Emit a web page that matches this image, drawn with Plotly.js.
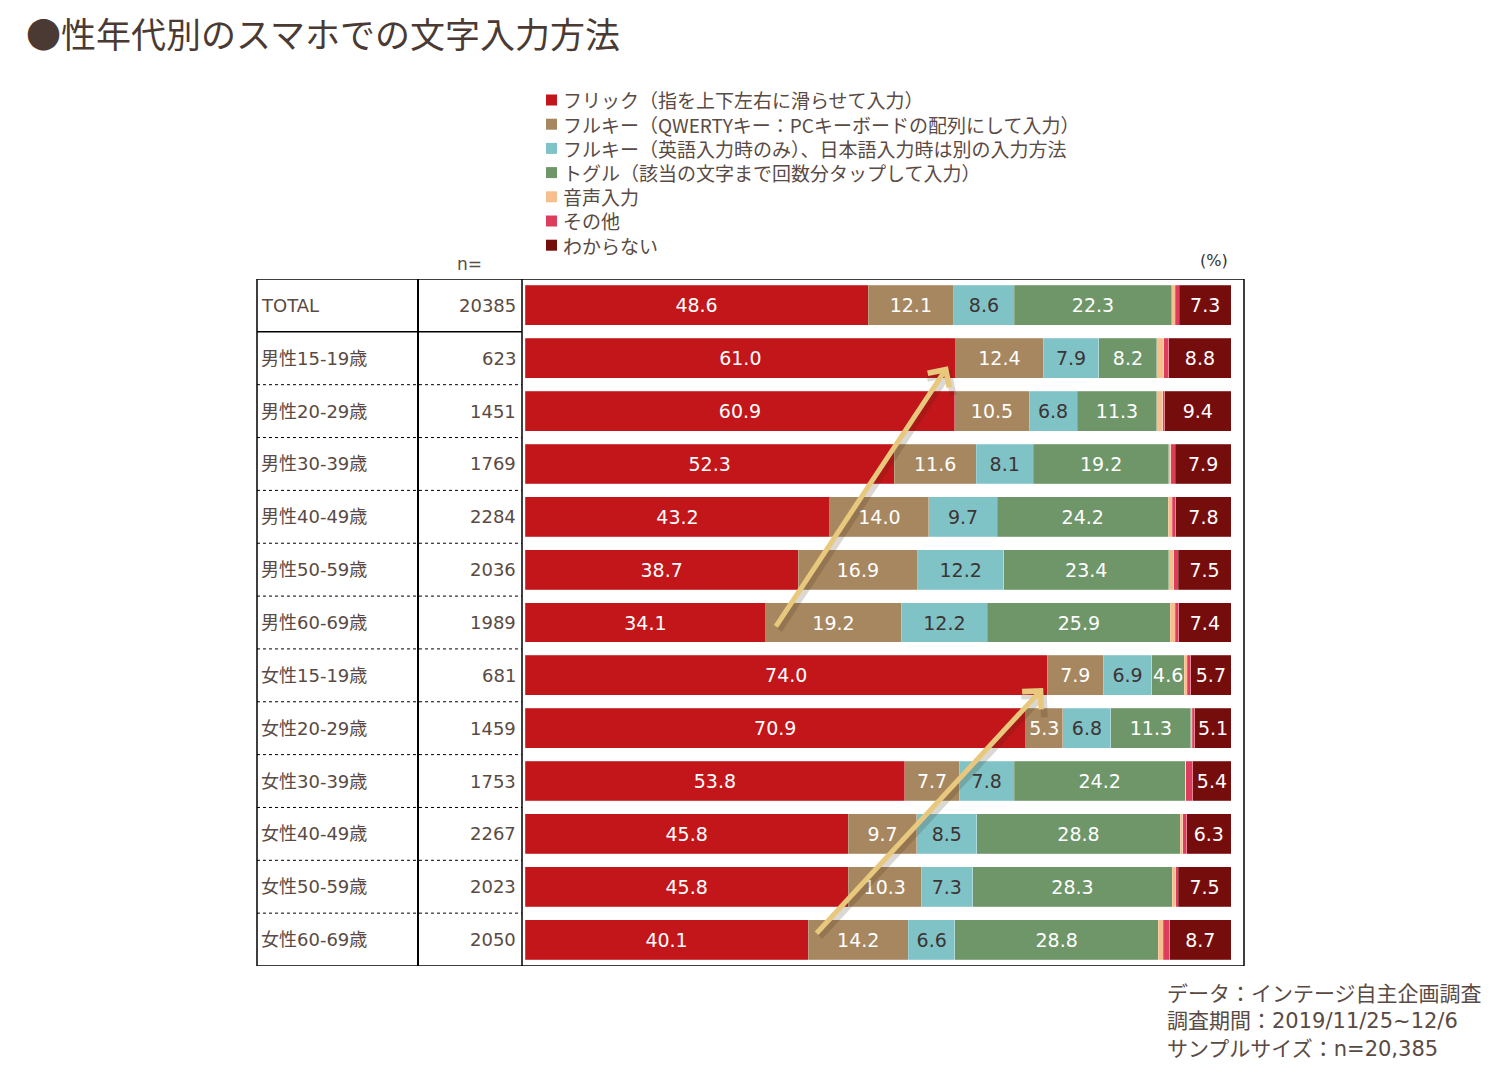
<!DOCTYPE html>
<html>
<head>
<meta charset="utf-8">
<script src="https://cdn.plot.ly/plotly-3.0.1.min.js"></script>
<style>html,body{margin:0;padding:0;background:#fff;}#chart{width:1509px;height:1077px;}</style>
</head>
<body>
<div id="chart"></div>
<script>
const categories = ['TOTAL','男性15-19歳','男性20-29歳','男性30-39歳','男性40-49歳','男性50-59歳','男性60-69歳','女性15-19歳','女性20-29歳','女性30-39歳','女性40-49歳','女性50-59歳','女性60-69歳'];
const nValues = [20385,623,1451,1769,2284,2036,1989,681,1459,1753,2267,2023,2050];
const seriesNames = ['フリック（指を上下左右に滑らせて入力）','フルキー（QWERTYキー：PCキーボードの配列にして入力）','フルキー（英語入力時のみ）、日本語入力時は別の入力方法','トグル（該当の文字まで回数分タップして入力）','音声入力','その他','わからない'];
const flick    = [48.6,61.0,60.9,52.3,43.2,38.7,34.1,74.0,70.9,53.8,45.8,45.8,40.1];
const qwerty   = [12.1,12.4,10.5,11.6,14.0,16.9,19.2,7.9,5.3,7.7,9.7,10.3,14.2];
const qwertyEn = [8.6,7.9,6.8,8.1,9.7,12.2,12.2,6.9,6.8,7.8,8.5,7.3,6.6];
const toggle   = [22.3,8.2,11.3,19.2,24.2,23.4,25.9,4.6,11.3,24.2,28.8,28.3,28.8];
const voice    = [0.5,1.0,0.8,0.3,0.6,0.7,0.7,0.4,0.2,0.1,0.4,0.5,0.7];
const other    = [0.6,0.7,0.3,0.6,0.5,0.6,0.5,0.5,0.4,1.0,0.5,0.3,0.9];
const unknown  = [7.3,8.8,9.4,7.9,7.8,7.5,7.4,5.7,5.1,5.4,6.3,7.5,8.7];
const footnote = ['データ：インテージ自主企画調査','調査期間：2019/11/25~12/6','サンプルサイズ：n=20,385'];

const W = 1509, H = 1077;
const px = v => v / W;
const py = v => 1 - v / H;

const FONT = '"DejaVu Sans", "Noto Sans CJK JP", sans-serif';
const JFONT = '"Noto Sans CJK JP", sans-serif';
const TXT = '#5a4a44';

const values = [flick, qwerty, qwertyEn, toggle, voice, other, unknown];
const colors = ['#C3161A','#A78760','#80C3C7','#6E9669','#F7BF8D','#DC3D5C','#760D0D'];
const textColors = ['#ffffff','#ffffff','#3d3333','#ffffff','#ffffff','#ffffff','#ffffff'];
const showText = [true,true,true,true,false,false,true];

const traces = values.map((vals, i) => ({
  type: 'bar',
  orientation: 'h',
  name: seriesNames[i],
  y: categories,
  x: vals,
  marker: {color: colors[i], line: {color: 'rgba(255,255,255,0.35)', width: 0.6}},
  text: showText[i] ? vals.map(v => v.toFixed(1)) : undefined,
  textposition: showText[i] ? 'inside' : 'none',
  insidetextanchor: 'middle',
  textangle: 0,
  textfont: {family: FONT, size: 19, color: textColors[i]},
  hoverinfo: 'x+name',
  showlegend: false
}));

const annotations = [];
const shapes = [];
// row labels and n
categories.forEach((c, i) => {
  annotations.push({xref:'paper', yref:'y', x: px(259), y: c, xanchor:'left', yanchor:'middle', showarrow:false,
    text: c, font:{family: FONT, size: 18, color: TXT}});
  annotations.push({xref:'paper', yref:'y', x: px(518), y: c, xanchor:'right', yanchor:'middle', showarrow:false,
    text: String(nValues[i]), font:{family: FONT, size: 18, color: TXT}});
});
annotations.push({xref:'paper', yref:'paper', x: px(469), y: py(264), xanchor:'center', yanchor:'middle', showarrow:false,
  text:'n=', font:{family: FONT, size: 17, color: TXT}});
annotations.push({xref:'paper', yref:'paper', x: px(1214), y: py(260), xanchor:'center', yanchor:'middle', showarrow:false,
  text:'(%)', font:{family: FONT, size: 16, color: '#333'}});
annotations.push({xref:'paper', yref:'paper', x: px(1165), y: py(980), xanchor:'left', yanchor:'top', align:'left', showarrow:false,
  text: footnote.join('<br>'), font:{family: FONT, size: 21, color: TXT}});

// custom legend
seriesNames.forEach((name, i) => {
  const cy = 100 + i * 24.2;
  shapes.push({type:'rect', xref:'paper', yref:'paper', x0: px(546), x1: px(557), y0: py(cy - 5.5), y1: py(cy + 5.5),
    fillcolor: colors[i], line:{width:0}});
  annotations.push({xref:'paper', yref:'paper', x: px(561), y: py(cy), xanchor:'left', yanchor:'middle', showarrow:false,
    text: name, font:{family: JFONT, size: 19, color: TXT}});
});

// arrows (shadow then arrow)
const arrows = [
  {x: 59.9, y: 1.15, ax: 35.4, ay: 6.1},
  {x: 73.4, y: 7.24, ax: 41.1, ay: 11.91}
];
arrows.forEach(a => {
  annotations.push({xref:'x', yref:'y', axref:'x', ayref:'y', x: a.x+0.5, y: a.y+0.07, ax: a.ax+0.5, ay: a.ay+0.07,
    showarrow:true, arrowhead:4, arrowsize:1, arrowwidth:6, arrowcolor:'rgba(60,40,20,0.18)', text:''});
  annotations.push({xref:'x', yref:'y', axref:'x', ayref:'y', x: a.x, y: a.y, ax: a.ax, ay: a.ay,
    showarrow:true, arrowhead:4, arrowsize:1, arrowwidth:5, arrowcolor:'#E8C87C', text:''});
});

// table lines
const x0 = px(257), x1 = px(1244), xc1 = px(418), xc2 = px(522);
shapes.push({type:'rect', xref:'paper', yref:'y', x0: x0, x1: x1, y0: -0.5, y1: categories.length - 0.5, line:{color:'#000', width:1.5}});
shapes.push({type:'line', xref:'paper', yref:'y', x0: xc1, x1: xc1, y0: -0.5, y1: categories.length - 0.5, line:{color:'#000', width:2}});
shapes.push({type:'line', xref:'paper', yref:'y', x0: xc2, x1: xc2, y0: -0.5, y1: categories.length - 0.5, line:{color:'#000', width:1.5}});
for (let k = 0; k < categories.length - 1; k++) {
  shapes.push({type:'line', xref:'paper', yref:'y', x0: x0, x1: xc2, y0: k + 0.5, y1: k + 0.5,
    line:{color:'#000', width: k === 0 ? 1.5 : 1, dash: k === 0 ? 'solid' : 'dot'}});
}

const layout = {
  width: W, height: H,
  margin: {l:0, r:0, t:0, b:0},
  paper_bgcolor: '#fff', plot_bgcolor: 'rgba(0,0,0,0)',
  barmode: 'stack',
  bargap: 0.245,
  title: {text: '●性年代別のスマホでの文字入力方法', x: px(26), xref:'paper', xanchor:'left', y: py(36), yref:'paper', yanchor:'middle',
    font: {family: JFONT, size: 35, color: '#4b3a33'}},
  xaxis: {domain: [px(525), px(1231)], range: [0, 100], visible: false, fixedrange: true},
  yaxis: {domain: [py(966), py(279)], range: [categories.length - 0.5, -0.5], type:'category', visible: false, fixedrange: true},
  showlegend: false,
  uniformtext: {mode: 'show', minsize: 19},
  annotations: annotations,
  shapes: shapes
};

Plotly.newPlot('chart', traces, layout, {displayModeBar: false, staticPlot: true});
</script>
</body>
</html>
